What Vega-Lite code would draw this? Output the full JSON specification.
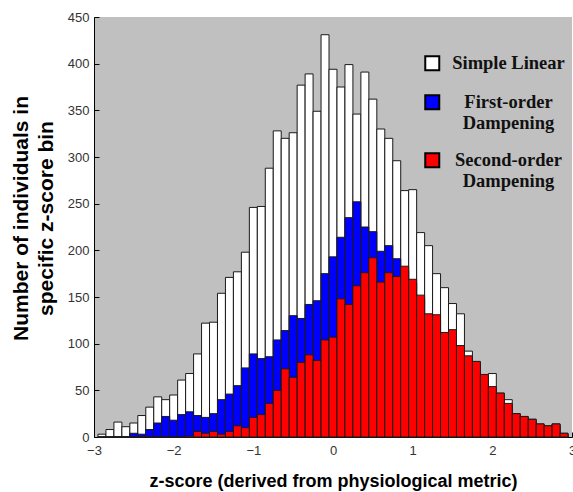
{
"$schema": "https://vega.github.io/schema/vega-lite/v6.json",
"width": 478,
"height": 420,
"autosize": {"type": "none"},
"padding": {"left": 94, "top": 17, "right": 1, "bottom": 55},
"background": "white",
"config": {
  "view": {"fill": "#c0c0c0", "stroke": null},
  "axis": {"domainColor": "black", "domainWidth": 1, "tickColor": "black", "tickSize": -5, "grid": false,
    "labelFont": "Liberation Sans", "labelFontSize": 13, "labelColor": "#333333",
    "titleFont": "Liberation Sans", "titleFontWeight": "bold", "titleColor": "black"}
},
"data": {"values": [
{"series":"Simple Linear","lo":-2.95,"hi":-2.85,"count":3},
{"series":"Simple Linear","lo":-2.85,"hi":-2.75,"count":8},
{"series":"Simple Linear","lo":-2.75,"hi":-2.65,"count":16},
{"series":"Simple Linear","lo":-2.65,"hi":-2.55,"count":11},
{"series":"Simple Linear","lo":-2.55,"hi":-2.45,"count":15},
{"series":"Simple Linear","lo":-2.45,"hi":-2.35,"count":23},
{"series":"Simple Linear","lo":-2.35,"hi":-2.25,"count":32},
{"series":"Simple Linear","lo":-2.25,"hi":-2.15,"count":43},
{"series":"Simple Linear","lo":-2.15,"hi":-2.05,"count":40},
{"series":"Simple Linear","lo":-2.05,"hi":-1.95,"count":45},
{"series":"Simple Linear","lo":-1.95,"hi":-1.85,"count":61},
{"series":"Simple Linear","lo":-1.85,"hi":-1.75,"count":68},
{"series":"Simple Linear","lo":-1.75,"hi":-1.65,"count":89},
{"series":"Simple Linear","lo":-1.65,"hi":-1.55,"count":122},
{"series":"Simple Linear","lo":-1.55,"hi":-1.45,"count":123},
{"series":"Simple Linear","lo":-1.45,"hi":-1.35,"count":154},
{"series":"Simple Linear","lo":-1.35,"hi":-1.25,"count":171},
{"series":"Simple Linear","lo":-1.25,"hi":-1.15,"count":177},
{"series":"Simple Linear","lo":-1.15,"hi":-1.05,"count":198},
{"series":"Simple Linear","lo":-1.05,"hi":-0.95,"count":246},
{"series":"Simple Linear","lo":-0.95,"hi":-0.85,"count":247},
{"series":"Simple Linear","lo":-0.85,"hi":-0.75,"count":288},
{"series":"Simple Linear","lo":-0.75,"hi":-0.65,"count":328},
{"series":"Simple Linear","lo":-0.65,"hi":-0.55,"count":320},
{"series":"Simple Linear","lo":-0.55,"hi":-0.45,"count":326},
{"series":"Simple Linear","lo":-0.45,"hi":-0.35,"count":377},
{"series":"Simple Linear","lo":-0.35,"hi":-0.25,"count":389},
{"series":"Simple Linear","lo":-0.25,"hi":-0.15,"count":349},
{"series":"Simple Linear","lo":-0.15,"hi":-0.05,"count":431},
{"series":"Simple Linear","lo":-0.05,"hi":0.05,"count":394},
{"series":"Simple Linear","lo":0.05,"hi":0.15,"count":375},
{"series":"Simple Linear","lo":0.15,"hi":0.25,"count":399},
{"series":"Simple Linear","lo":0.25,"hi":0.35,"count":346},
{"series":"Simple Linear","lo":0.35,"hi":0.45,"count":391},
{"series":"Simple Linear","lo":0.45,"hi":0.55,"count":362},
{"series":"Simple Linear","lo":0.55,"hi":0.65,"count":330},
{"series":"Simple Linear","lo":0.65,"hi":0.75,"count":320},
{"series":"Simple Linear","lo":0.75,"hi":0.85,"count":296},
{"series":"Simple Linear","lo":0.85,"hi":0.95,"count":264},
{"series":"Simple Linear","lo":0.95,"hi":1.05,"count":265},
{"series":"Simple Linear","lo":1.05,"hi":1.15,"count":219},
{"series":"Simple Linear","lo":1.15,"hi":1.25,"count":205},
{"series":"Simple Linear","lo":1.25,"hi":1.35,"count":175},
{"series":"Simple Linear","lo":1.35,"hi":1.45,"count":160},
{"series":"Simple Linear","lo":1.45,"hi":1.55,"count":143},
{"series":"Simple Linear","lo":1.55,"hi":1.65,"count":132},
{"series":"Simple Linear","lo":1.65,"hi":1.75,"count":92},
{"series":"Simple Linear","lo":1.75,"hi":1.85,"count":80},
{"series":"Simple Linear","lo":1.85,"hi":1.95,"count":66},
{"series":"Simple Linear","lo":1.95,"hi":2.05,"count":68},
{"series":"Simple Linear","lo":2.05,"hi":2.15,"count":47},
{"series":"Simple Linear","lo":2.15,"hi":2.25,"count":40},
{"series":"Simple Linear","lo":2.25,"hi":2.35,"count":25},
{"series":"Simple Linear","lo":2.35,"hi":2.45,"count":22},
{"series":"Simple Linear","lo":2.45,"hi":2.55,"count":19},
{"series":"Simple Linear","lo":2.55,"hi":2.65,"count":14},
{"series":"Simple Linear","lo":2.65,"hi":2.75,"count":12},
{"series":"Simple Linear","lo":2.75,"hi":2.85,"count":14},
{"series":"Simple Linear","lo":2.85,"hi":2.95,"count":4},
{"series":"First-order Dampening","lo":-2.95,"hi":-2.85,"count":0},
{"series":"First-order Dampening","lo":-2.85,"hi":-2.75,"count":0},
{"series":"First-order Dampening","lo":-2.75,"hi":-2.65,"count":0},
{"series":"First-order Dampening","lo":-2.65,"hi":-2.55,"count":0},
{"series":"First-order Dampening","lo":-2.55,"hi":-2.45,"count":4},
{"series":"First-order Dampening","lo":-2.45,"hi":-2.35,"count":3},
{"series":"First-order Dampening","lo":-2.35,"hi":-2.25,"count":8},
{"series":"First-order Dampening","lo":-2.25,"hi":-2.15,"count":15},
{"series":"First-order Dampening","lo":-2.15,"hi":-2.05,"count":22},
{"series":"First-order Dampening","lo":-2.05,"hi":-1.95,"count":18},
{"series":"First-order Dampening","lo":-1.95,"hi":-1.85,"count":24},
{"series":"First-order Dampening","lo":-1.85,"hi":-1.75,"count":27},
{"series":"First-order Dampening","lo":-1.75,"hi":-1.65,"count":23},
{"series":"First-order Dampening","lo":-1.65,"hi":-1.55,"count":21},
{"series":"First-order Dampening","lo":-1.55,"hi":-1.45,"count":25},
{"series":"First-order Dampening","lo":-1.45,"hi":-1.35,"count":40},
{"series":"First-order Dampening","lo":-1.35,"hi":-1.25,"count":46},
{"series":"First-order Dampening","lo":-1.25,"hi":-1.15,"count":55},
{"series":"First-order Dampening","lo":-1.15,"hi":-1.05,"count":74},
{"series":"First-order Dampening","lo":-1.05,"hi":-0.95,"count":89},
{"series":"First-order Dampening","lo":-0.95,"hi":-0.85,"count":84},
{"series":"First-order Dampening","lo":-0.85,"hi":-0.75,"count":86},
{"series":"First-order Dampening","lo":-0.75,"hi":-0.65,"count":104},
{"series":"First-order Dampening","lo":-0.65,"hi":-0.55,"count":114},
{"series":"First-order Dampening","lo":-0.55,"hi":-0.45,"count":130},
{"series":"First-order Dampening","lo":-0.45,"hi":-0.35,"count":127},
{"series":"First-order Dampening","lo":-0.35,"hi":-0.25,"count":142},
{"series":"First-order Dampening","lo":-0.25,"hi":-0.15,"count":146},
{"series":"First-order Dampening","lo":-0.15,"hi":-0.05,"count":175},
{"series":"First-order Dampening","lo":-0.05,"hi":0.05,"count":193},
{"series":"First-order Dampening","lo":0.05,"hi":0.15,"count":214},
{"series":"First-order Dampening","lo":0.15,"hi":0.25,"count":235},
{"series":"First-order Dampening","lo":0.25,"hi":0.35,"count":252},
{"series":"First-order Dampening","lo":0.35,"hi":0.45,"count":225},
{"series":"First-order Dampening","lo":0.45,"hi":0.55,"count":220},
{"series":"First-order Dampening","lo":0.55,"hi":0.65,"count":199},
{"series":"First-order Dampening","lo":0.65,"hi":0.75,"count":205},
{"series":"First-order Dampening","lo":0.75,"hi":0.85,"count":191},
{"series":"First-order Dampening","lo":0.85,"hi":0.95,"count":178},
{"series":"First-order Dampening","lo":0.95,"hi":1.05,"count":165},
{"series":"First-order Dampening","lo":1.05,"hi":1.15,"count":148},
{"series":"First-order Dampening","lo":1.15,"hi":1.25,"count":128},
{"series":"First-order Dampening","lo":1.25,"hi":1.35,"count":125},
{"series":"First-order Dampening","lo":1.35,"hi":1.45,"count":108},
{"series":"First-order Dampening","lo":1.45,"hi":1.55,"count":110},
{"series":"First-order Dampening","lo":1.55,"hi":1.65,"count":94},
{"series":"First-order Dampening","lo":1.65,"hi":1.75,"count":83},
{"series":"First-order Dampening","lo":1.75,"hi":1.85,"count":77},
{"series":"First-order Dampening","lo":1.85,"hi":1.95,"count":63},
{"series":"First-order Dampening","lo":1.95,"hi":2.05,"count":50},
{"series":"First-order Dampening","lo":2.05,"hi":2.15,"count":44},
{"series":"First-order Dampening","lo":2.15,"hi":2.25,"count":33},
{"series":"First-order Dampening","lo":2.25,"hi":2.35,"count":23},
{"series":"First-order Dampening","lo":2.35,"hi":2.45,"count":20},
{"series":"First-order Dampening","lo":2.45,"hi":2.55,"count":17},
{"series":"First-order Dampening","lo":2.55,"hi":2.65,"count":12},
{"series":"First-order Dampening","lo":2.65,"hi":2.75,"count":10},
{"series":"First-order Dampening","lo":2.75,"hi":2.85,"count":12},
{"series":"First-order Dampening","lo":2.85,"hi":2.95,"count":3},
{"series":"Second-order Dampening","lo":-2.95,"hi":-2.85,"count":0},
{"series":"Second-order Dampening","lo":-2.85,"hi":-2.75,"count":0},
{"series":"Second-order Dampening","lo":-2.75,"hi":-2.65,"count":0},
{"series":"Second-order Dampening","lo":-2.65,"hi":-2.55,"count":0},
{"series":"Second-order Dampening","lo":-2.55,"hi":-2.45,"count":0},
{"series":"Second-order Dampening","lo":-2.45,"hi":-2.35,"count":0},
{"series":"Second-order Dampening","lo":-2.35,"hi":-2.25,"count":0},
{"series":"Second-order Dampening","lo":-2.25,"hi":-2.15,"count":0},
{"series":"Second-order Dampening","lo":-2.15,"hi":-2.05,"count":0},
{"series":"Second-order Dampening","lo":-2.05,"hi":-1.95,"count":0},
{"series":"Second-order Dampening","lo":-1.95,"hi":-1.85,"count":0},
{"series":"Second-order Dampening","lo":-1.85,"hi":-1.75,"count":1},
{"series":"Second-order Dampening","lo":-1.75,"hi":-1.65,"count":6},
{"series":"Second-order Dampening","lo":-1.65,"hi":-1.55,"count":4},
{"series":"Second-order Dampening","lo":-1.55,"hi":-1.45,"count":6},
{"series":"Second-order Dampening","lo":-1.45,"hi":-1.35,"count":3},
{"series":"Second-order Dampening","lo":-1.35,"hi":-1.25,"count":6},
{"series":"Second-order Dampening","lo":-1.25,"hi":-1.15,"count":12},
{"series":"Second-order Dampening","lo":-1.15,"hi":-1.05,"count":10},
{"series":"Second-order Dampening","lo":-1.05,"hi":-0.95,"count":21},
{"series":"Second-order Dampening","lo":-0.95,"hi":-0.85,"count":24},
{"series":"Second-order Dampening","lo":-0.85,"hi":-0.75,"count":36},
{"series":"Second-order Dampening","lo":-0.75,"hi":-0.65,"count":50},
{"series":"Second-order Dampening","lo":-0.65,"hi":-0.55,"count":73},
{"series":"Second-order Dampening","lo":-0.55,"hi":-0.45,"count":64},
{"series":"Second-order Dampening","lo":-0.45,"hi":-0.35,"count":80},
{"series":"Second-order Dampening","lo":-0.35,"hi":-0.25,"count":88},
{"series":"Second-order Dampening","lo":-0.25,"hi":-0.15,"count":82},
{"series":"Second-order Dampening","lo":-0.15,"hi":-0.05,"count":104},
{"series":"Second-order Dampening","lo":-0.05,"hi":0.05,"count":107},
{"series":"Second-order Dampening","lo":0.05,"hi":0.15,"count":148},
{"series":"Second-order Dampening","lo":0.15,"hi":0.25,"count":142},
{"series":"Second-order Dampening","lo":0.25,"hi":0.35,"count":162},
{"series":"Second-order Dampening","lo":0.35,"hi":0.45,"count":176},
{"series":"Second-order Dampening","lo":0.45,"hi":0.55,"count":192},
{"series":"Second-order Dampening","lo":0.55,"hi":0.65,"count":166},
{"series":"Second-order Dampening","lo":0.65,"hi":0.75,"count":176},
{"series":"Second-order Dampening","lo":0.75,"hi":0.85,"count":172},
{"series":"Second-order Dampening","lo":0.85,"hi":0.95,"count":183},
{"series":"Second-order Dampening","lo":0.95,"hi":1.05,"count":169},
{"series":"Second-order Dampening","lo":1.05,"hi":1.15,"count":152},
{"series":"Second-order Dampening","lo":1.15,"hi":1.25,"count":132},
{"series":"Second-order Dampening","lo":1.25,"hi":1.35,"count":131},
{"series":"Second-order Dampening","lo":1.35,"hi":1.45,"count":112},
{"series":"Second-order Dampening","lo":1.45,"hi":1.55,"count":115},
{"series":"Second-order Dampening","lo":1.55,"hi":1.65,"count":98},
{"series":"Second-order Dampening","lo":1.65,"hi":1.75,"count":87},
{"series":"Second-order Dampening","lo":1.75,"hi":1.85,"count":81},
{"series":"Second-order Dampening","lo":1.85,"hi":1.95,"count":67},
{"series":"Second-order Dampening","lo":1.95,"hi":2.05,"count":54},
{"series":"Second-order Dampening","lo":2.05,"hi":2.15,"count":47},
{"series":"Second-order Dampening","lo":2.15,"hi":2.25,"count":36},
{"series":"Second-order Dampening","lo":2.25,"hi":2.35,"count":25},
{"series":"Second-order Dampening","lo":2.35,"hi":2.45,"count":22},
{"series":"Second-order Dampening","lo":2.45,"hi":2.55,"count":19},
{"series":"Second-order Dampening","lo":2.55,"hi":2.65,"count":14},
{"series":"Second-order Dampening","lo":2.65,"hi":2.75,"count":12},
{"series":"Second-order Dampening","lo":2.75,"hi":2.85,"count":14},
{"series":"Second-order Dampening","lo":2.85,"hi":2.95,"count":4}
]},
"mark": {"type": "bar", "stroke": "#1a1a1a", "strokeWidth": 1},
"encoding": {
  "x": {"field": "lo", "type": "quantitative",
    "scale": {"domain": [-3, 3], "nice": false, "zero": false},
    "axis": {"values": [-3, -2, -1, 0, 1, 2, 3], "format": "d", "labelPadding": 12, "labelFlush": false,
      "title": "z-score (derived from physiological metric)", "titleFontSize": 18, "titleY": 44, "titleBaseline": "middle"}},
  "x2": {"field": "hi"},
  "y": {"field": "count", "type": "quantitative", "stack": null,
    "scale": {"domain": [0, 450], "nice": false},
    "axis": {"values": [0, 50, 100, 150, 200, 250, 300, 350, 400, 450], "labelPadding": 10,
      "title": ["Number of individuals in", "specific z-score bin"], "titleFontSize": 21,
      "titleX": -84, "titleY": 201, "titleAngle": -90, "titleBaseline": "top", "titleAlign": "center", "titleLineHeight": 25}},
  "y2": {"datum": 0},
  "color": {"field": "series", "type": "nominal",
    "scale": {"domain": ["Simple Linear", "First-order Dampening", "Second-order Dampening"], "range": ["#ffffff", "#0000ff", "#ff0000"]},
    "legend": {"orient": "none", "legendX": 329, "legendY": 37, "title": null, "padding": 0,
      "symbolType": "square", "symbolSize": 196, "symbolStrokeColor": "black", "symbolStrokeWidth": 2, "symbolOpacity": 1,
      "labelFont": "Liberation Serif", "labelFontWeight": "bold", "labelFontSize": 18.5, "labelColor": "#111111",
      "labelAlign": "center", "labelOffset": 67, "labelLimit": 0, "rowPadding": 16,
      "labelExpr": "indexof(datum.label, 'Dampening') > 0 ? split(datum.label, ' ') : datum.label"}}
}
}
